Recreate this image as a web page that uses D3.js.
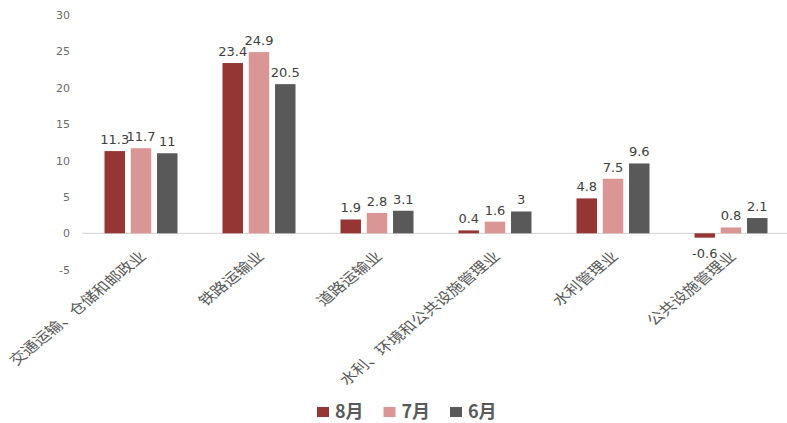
<!DOCTYPE html>
<html><head><meta charset="utf-8">
<script src="https://cdn.jsdelivr.net/npm/d3@7/dist/d3.min.js"></script>
<style>
body{margin:0;background:#fff;}
svg{display:block;font-family:"Noto Sans CJK SC","Microsoft YaHei",sans-serif;}
</style></head>
<body><svg id="c" width="787" height="423"></svg>
<script>
const categories = ["交通运输、仓储和邮政业","铁路运输业","道路运输业","水利、环境和公共设施管理业","水利管理业","公共设施管理业"];
const seriesNames = ["8月","7月","6月"];
const aug = [11.3, 23.4, 1.9, 0.4, 4.8, -0.6];
const jul = [11.7, 24.9, 2.8, 1.6, 7.5, 0.8];
const jun = [11, 20.5, 3.1, 3, 9.6, 2.1];
const yTicks = [-5, 0, 5, 10, 15, 20, 25, 30];
const colors = ["#963634", "#D99694", "#595959"];

(function () {
  const series = [aug, jul, jun];
  const svg = d3.select("#c");
  const plotLeft = 82, plotRight = 790, plotTop = 15, plotBottom = 269.7;
  const stretch = 1.2; // the chart is drawn slightly wide, so rotated text is widened too

  const y = d3.scaleLinear().domain([-5, 30]).range([plotBottom, plotTop]);
  const x0 = d3.scaleBand().domain(categories).range([plotLeft, plotRight]);
  const x1 = d3.scaleBand().domain(seriesNames).range([0, 73]).paddingInner(0.22);

  // y axis labels (no line, no ticks)
  const yAxis = d3.axisLeft(y).tickValues(yTicks).tickSize(0).tickPadding(0).tickFormat(d => String(d));
  const ga = svg.append("g").attr("transform", "translate(70,0)").call(yAxis);
  ga.select(".domain").remove();
  ga.selectAll("text").attr("fill", "#6b6b6b").style("font-size", "11px")
    .style("font-family", "'DejaVu Sans',sans-serif");

  // zero baseline
  svg.append("line").attr("x1", plotLeft).attr("x2", 787)
    .attr("y1", y(0)).attr("y2", y(0)).attr("stroke", "#d9d9d9").attr("stroke-width", 1.2);

  // bars and value labels
  categories.forEach((cat, i) => {
    const center = x0(cat) + x0.bandwidth() / 2;
    const g = svg.append("g").attr("transform", `translate(${center - 36.5},0)`);
    series.forEach((vals, s) => {
      const v = vals[i];
      const bx = x1(seriesNames[s]);
      g.append("rect").attr("x", bx).attr("width", x1.bandwidth())
        .attr("y", y(Math.max(0, v))).attr("height", Math.abs(y(v) - y(0)))
        .attr("fill", colors[s]);
      g.append("text").attr("x", bx + x1.bandwidth() / 2)
        .attr("y", v >= 0 ? y(v) - 7 : y(v) + 20)
        .attr("text-anchor", "middle").attr("fill", "#404040")
        .style("font-size", "13px").style("font-family", "'DejaVu Sans',sans-serif")
        .text(v);
    });
    // rotated category label
    svg.append("text")
      .attr("transform", `translate(${center + 6},${y(0) + 24}) scale(${stretch},1) rotate(-45)`)
      .attr("text-anchor", "end").attr("fill", "#595959").style("font-size", "14px")
      .text(cat);
  });

  // legend
  const lg = svg.append("g").attr("transform", "translate(317,412)");
  const legendX = [0, 66.5, 133];
  seriesNames.forEach((n, s) => {
    lg.append("rect").attr("x", legendX[s]).attr("y", -5).attr("width", 12).attr("height", 10).attr("fill", colors[s]);
    lg.append("text").attr("x", legendX[s] + 18).attr("y", 0).attr("dy", "0.36em")
      .attr("fill", "#595959").style("font-size", "18px").style("font-weight", "bold").text(n);
  });
})();
</script></body></html>
